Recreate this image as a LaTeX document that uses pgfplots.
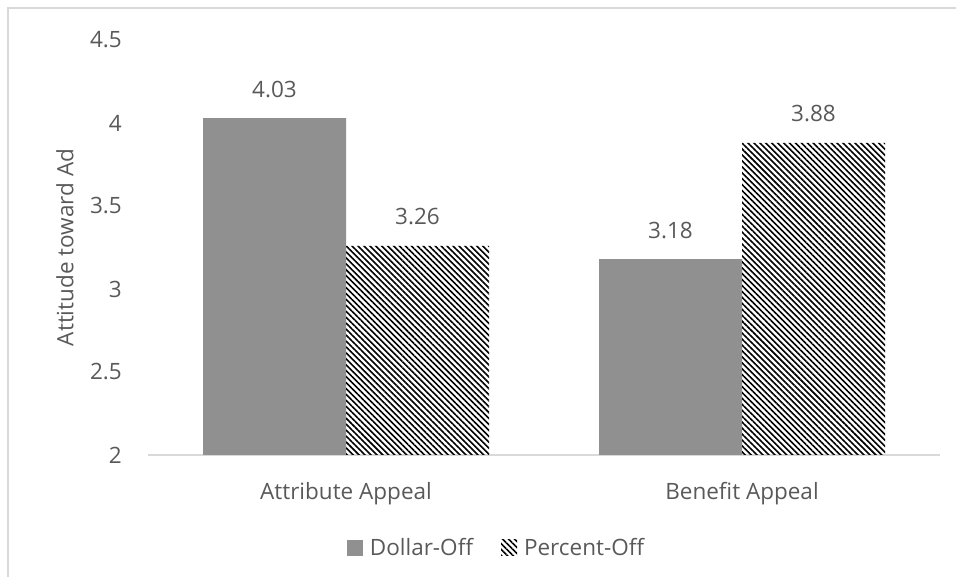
\documentclass[border=0pt]{standalone}
\usepackage{pgfplots}
\pgfplotsset{compat=1.18}
\usetikzlibrary{patterns.meta}
\usepackage{fontspec}
\setmainfont{Open Sans}
\definecolor{txt}{RGB}{89,89,89}
\definecolor{dollar}{RGB}{144,144,144}
\definecolor{frame}{RGB}{217,217,217}
\begin{document}
\begin{tikzpicture}
\useasboundingbox (0,0) rectangle (956pt,577pt);
\draw[frame, line width=1.5pt] (8pt,0pt) -- (8pt,569pt) -- (957pt,569pt);
\begin{axis}[
  at={(148pt,122pt)}, anchor=south west,
  scale only axis, width=792pt, height=415pt,
  font=\fontsize{22.5}{26}\selectfont, 
  /pgf/number format/assume math mode=true,
  ybar=0pt, bar width=143pt,
  xmin=-0.5, xmax=1.5, ymin=2, ymax=4.5,
  ytick={2,2.5,3,3.5,4,4.5},
  yticklabels={2,2.5,3,3.5,4,4.5},
  xtick={0,1}, xticklabels={Attribute Appeal, Benefit Appeal},
  axis x line*=bottom, axis y line*=left,
  x axis line style={draw=frame, line width=1.3pt, -},
  y axis line style={draw=none},
  major tick length=0pt,
  tick label style={text=txt},
  xticklabel style={anchor=base, yshift=-45pt},
  yticklabel style={anchor=east, inner sep=0pt, xshift=-26pt},
  ylabel={Attitude toward Ad},
  ylabel style={text=txt, at={(rel axis cs:-0.105,0.5)}, anchor=center, rotate=0},
  nodes near coords,
  every node near coord/.append style={text=txt, anchor=center, yshift=29pt, /pgf/number format/fixed, /pgf/number format/precision=2, /pgf/number format/fixed zerofill},
  legend style={draw=none, fill=none, at={(0.44,-0.224)}, anchor=center, legend columns=2, text=txt, font=\fontsize{22.5}{26}\selectfont, inner sep=0pt},
  legend image code/.code={\fill[#1] (0pt,-8pt) rectangle (16pt,8pt); \path (21pt,0pt);},
  /tikz/every even column/.append style={column sep=26pt},
  legend cell align=left,
]
\addplot[fill=dollar, draw=none] coordinates {(0,4.03) (1,3.18)};
\addplot[draw=none, pattern={Lines[angle=-45,distance=4.2pt,line width=1.6pt]}, pattern color=black] coordinates {(0,3.26) (1,3.88)};
\legend{Dollar-Off, Percent-Off}
\end{axis}
\end{tikzpicture}
\end{document}
